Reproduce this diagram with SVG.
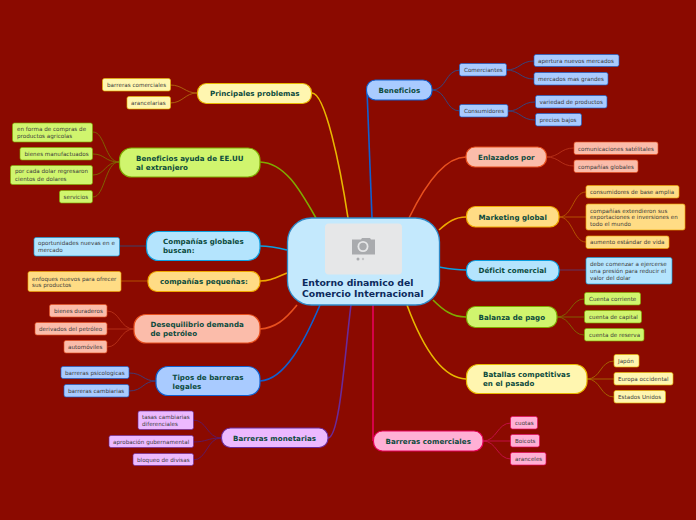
<svg xmlns="http://www.w3.org/2000/svg" width="696" height="520" viewBox="0 0 696 520">
<style>
text{font-family:"DejaVu Sans","Liberation Sans",sans-serif;}
.m{font-size:7.1px;font-weight:700;fill:#0b4a3c;letter-spacing:.04px}
.s{font-size:5.6px;fill:#3a3a3a;letter-spacing:.02px}
.c{font-size:9.3px;font-weight:700;fill:#0c2a5c}
.n{stroke-width:1.2}
rect[rx="2"]{stroke-width:1;stroke-opacity:.65}
.l{fill:none}
.l1{stroke-width:1.6}
.l2{stroke-width:.9}
.y{fill:#fff6b0;stroke:#e8b800}.g{fill:#d0f56e;stroke:#7faa00}.b{fill:#b4e4fd;stroke:#0a9fe0}.o{fill:#ffdc85;stroke:#f0a800}.r{fill:#fbbcaa;stroke:#e8501e}.u{fill:#a9cbff;stroke:#1060d0}.p{fill:#ecb9ff;stroke:#6b2a9a}.k{fill:#ffb0d5;stroke:#e8005a}
</style>
<rect width="696" height="520" fill="#8b0a00"/>
<g id="connectors" class="l">
<g class="l1">
<path d="M348 218C340 165 325 93 312 93" stroke="#e8b800"/>
<path d="M316 218C300 190 285 163 260 162" stroke="#7faa00"/>
<path d="M287 250C275 247 270 246 260 246" stroke="#0a9fe0"/>
<path d="M287 273C275 278 270 281 260 281" stroke="#f0a800"/>
<path d="M297 305C285 320 275 328 260 329" stroke="#e8501e"/>
<path d="M320 305C305 340 285 380 260 381" stroke="#1060d0"/>
<path d="M351 305C345 350 340 438 328 438" stroke="#6b2a9a"/>
<path d="M372 218L367 90" stroke="#1060d0"/>
<path d="M409 218C425 185 445 157 466 157" stroke="#e8501e"/>
<path d="M439 230C448 222 455 217 466 217" stroke="#f0a800"/>
<path d="M439 267C450 269 455 270 466 270" stroke="#0a9fe0"/>
<path d="M433 300C443 310 452 317 466 317" stroke="#7faa00"/>
<path d="M407 305C420 340 440 378 466 379" stroke="#e8b800"/>
<path d="M373 305L373 441" stroke="#e8005a"/>
</g>
<g class="l2">
<path d="M197 93C185 93 183 85 170 85M197 93C185 93 183 103 170 103" stroke="#b06a10"/>
<path d="M119 162C105 162 105 132 93 132M119 162C105 162 105 154 93 154M119 162C105 162 105 175 93 175M119 162C105 162 105 197 93 197" stroke="#7f6a00"/>
<path d="M146 246L120 246" stroke="#2f4a78"/>
<path d="M148 281L121 281" stroke="#b85a00"/>
<path d="M134 329C120 329 120 311 107 311M134 329L107 329M134 329C120 329 120 347 107 347" stroke="#b8321a"/>
<path d="M156 381C143 381 143 373 129 373M156 381C143 381 143 391 129 391" stroke="#3a3f80"/>
<path d="M221 438C207 438 207 420 193 420M221 438C207 438 207 442 193 442M221 438C207 438 207 460 193 460" stroke="#5a1a6a"/>
<path d="M432 90C447 90 445 70 460 70M432 90C447 90 445 111 460 111" stroke="#2f4a88"/>
<path d="M506 70C520 70 520 61 534 61M506 70C520 70 520 79 534 79" stroke="#2f4a88"/>
<path d="M508 111C521 111 521 102 535 102M508 111C521 111 521 120 535 120" stroke="#2f4a88"/>
<path d="M546 157C560 157 560 148 574 148M546 157C560 157 560 166 574 166" stroke="#b8321a"/>
<path d="M559 217C573 217 573 192 586 192M559 217L586 217M559 217C573 217 573 242 586 242" stroke="#b85a00"/>
<path d="M559 270L586 270" stroke="#5a3a70"/>
<path d="M557 317C571 317 571 299 584 299M557 317L584 317M557 317C571 317 571 335 584 335" stroke="#7f6a00"/>
<path d="M587 379C601 379 600 361 614 361M587 379L614 379M587 379C601 379 600 397 614 397" stroke="#a86a00"/>
<path d="M483 441C497 441 497 423 511 423M483 441L511 441M483 441C497 441 497 459 511 459" stroke="#c8104a"/>
</g>
</g>
<g id="center">
<rect x="287.500" y="218" width="152" height="87" rx="24" fill="#c4e9fd" stroke="#2f8ac8" stroke-width="1.300"/>
<rect x="325" y="223.500" width="77" height="51" rx="4" fill="#e6e7e8"/>
<path d="M352 239.500h9l1-1.500h8l1 1.500h4v15h-23z" fill="#a9abae"/>
<circle cx="363" cy="246.500" r="5.500" fill="#e6e7e8"/><circle cx="363" cy="246.500" r="3.700" fill="#a9abae"/>
<circle cx="358" cy="259" r="1.500" fill="#a9abae"/><circle cx="363" cy="259" r="1.200" fill="#c4c5c7"/>
<text class="c" x="302" y="286">Entorno dinamico del</text>
<text class="c" x="302" y="297">Comercio Internacional</text>
</g>
<g id="principales"><rect class="y n" x="197.500" y="83.500" width="114" height="20" rx="9"/><text class="m" x="210" y="96">Principales problemas</text></g>
<g id="pp1"><rect class="y n" x="102.500" y="78.500" width="68" height="12.500" rx="2"/><text class="s" x="107" y="87">barreras comerciales</text></g>
<g id="pp2"><rect class="y n" x="127" y="96.500" width="43.500" height="12.500" rx="2"/><text class="s" x="131" y="105">arancelarias</text></g>
<g id="ayuda"><rect class="g n" x="119.500" y="148" width="140.500" height="29" rx="12"/><text class="m" x="136" y="161">Beneficios ayuda de EE.UU</text><text class="m" x="136" y="170">al extranjero</text></g>
<g id="ay1"><rect class="g n" x="12.500" y="123" width="80" height="19" rx="2"/><text class="s" x="17" y="131">en forma de compras de</text><text class="s" x="17" y="138">productos agricolas</text></g>
<g id="ay2"><rect class="g n" x="20" y="147.500" width="72.500" height="12.500" rx="2"/><text class="s" x="24.500" y="156">bienes manufactuados</text></g>
<g id="ay3"><rect class="g n" x="10.500" y="165.500" width="82" height="19" rx="2"/><text class="s" x="15" y="173">por cada dolar regresaron</text><text class="s" x="15" y="181">cientos de dolares</text></g>
<g id="ay4"><rect class="g n" x="59.500" y="190.500" width="33" height="12.500" rx="2"/><text class="s" x="63.500" y="199">servicios</text></g>
<g id="globales"><rect class="b n" x="146.500" y="231.500" width="113.500" height="29" rx="12"/><text class="m" x="163" y="244">Compañías globales</text><text class="m" x="163" y="253">buscan:</text></g>
<g id="gl1"><rect class="b n" x="34" y="237.500" width="85.500" height="18.500" rx="2"/><text class="s" x="38" y="245">oportunidades nuevas en e</text><text class="s" x="38" y="252">mercado</text></g>
<g id="pequenas"><rect class="o n" x="148" y="271.500" width="112" height="20" rx="9"/><text class="m" x="160" y="284">compañías pequeñas:</text></g>
<g id="pq1"><rect class="o n" x="28" y="271.500" width="93" height="20" rx="2"/><text class="s" x="32" y="281">enfoques nuevos para ofrecer</text><text class="s" x="32" y="287">sus productos</text></g>
<g id="deseq"><rect class="r n" x="134" y="314.500" width="126" height="28.500" rx="12"/><text class="m" x="150.500" y="327">Desequilibrio demanda</text><text class="m" x="150.500" y="336">de petróleo</text></g>
<g id="de1"><rect class="r n" x="49.500" y="304.500" width="57.500" height="12.500" rx="2"/><text class="s" x="54" y="313">bienes duraderos</text></g>
<g id="de2"><rect class="r n" x="35" y="322.500" width="72" height="12.500" rx="2"/><text class="s" x="39" y="331">derivados del petróleo</text></g>
<g id="de3"><rect class="r n" x="64" y="340.500" width="43" height="12.500" rx="2"/><text class="s" x="68" y="349">automóviles</text></g>
<g id="tipos"><rect class="u n" x="156" y="366.500" width="104" height="29" rx="12"/><text class="m" x="172.500" y="380">Tipos de barreras</text><text class="m" x="172.500" y="389">legales</text></g>
<g id="ti1"><rect class="u n" x="61" y="366.500" width="68" height="12" rx="2"/><text class="s" x="65" y="375">barreras psicologicas</text></g>
<g id="ti2"><rect class="u n" x="64" y="384.500" width="65" height="12.500" rx="2"/><text class="s" x="68" y="393">barreras cambiarias</text></g>
<g id="monetarias"><rect class="p n" x="221.500" y="428" width="106.500" height="19.500" rx="9"/><text class="m" x="233" y="441">Barreras monetarias</text></g>
<g id="mo1"><rect class="p n" x="138" y="411" width="55.500" height="18.500" rx="2"/><text class="s" x="142" y="419">tasas cambiarias</text><text class="s" x="142" y="426">diferenciales</text></g>
<g id="mo2"><rect class="p n" x="109" y="435.500" width="84.500" height="12" rx="2"/><text class="s" x="113" y="444">aprobación gubernamental</text></g>
<g id="mo3"><rect class="p n" x="133" y="453.500" width="60.500" height="12" rx="2"/><text class="s" x="137" y="462">bloqueo de divisas</text></g>
<g id="beneficios"><rect class="u n" x="366.500" y="80" width="65.500" height="20" rx="9"/><text class="m" x="378.500" y="93">Beneficios</text></g>
<g id="be1"><rect class="u n" x="459.500" y="63.500" width="47" height="12.500" rx="2"/><text class="s" x="464" y="72">Comerciantes</text></g>
<g id="be2"><rect class="u n" x="459.500" y="104.500" width="48.500" height="12.500" rx="2"/><text class="s" x="464" y="113">Consumidores</text></g>
<g id="be3"><rect class="u n" x="534" y="54.500" width="85" height="12" rx="2"/><text class="s" x="538" y="63">apertura nuevos mercados</text></g>
<g id="be4"><rect class="u n" x="534" y="72.500" width="74" height="12.500" rx="2"/><text class="s" x="538" y="81">mercados mas grandes</text></g>
<g id="be5"><rect class="u n" x="535.500" y="95.500" width="71.500" height="12.500" rx="2"/><text class="s" x="539.500" y="104">variedad de productos</text></g>
<g id="be6"><rect class="u n" x="535.500" y="113.500" width="46" height="12.500" rx="2"/><text class="s" x="539.500" y="122">precios bajos</text></g>
<g id="enlazados"><rect class="r n" x="466" y="147" width="80.500" height="20" rx="9"/><text class="m" x="478" y="160">Enlazados por</text></g>
<g id="en1"><rect class="r n" x="574" y="142" width="84" height="12.500" rx="2"/><text class="s" x="578" y="151">comunicaciones satélitales</text></g>
<g id="en2"><rect class="r n" x="574" y="160" width="64" height="12.500" rx="2"/><text class="s" x="578" y="169">compañías globales</text></g>
<g id="marketing"><rect class="o n" x="466.500" y="206.500" width="92.500" height="20.500" rx="9"/><text class="m" x="478.500" y="220">Marketing global</text></g>
<g id="ma1"><rect class="o n" x="586" y="185.500" width="93" height="12.500" rx="2"/><text class="s" x="590" y="194">consumidores de base amplia</text></g>
<g id="ma2"><rect class="o n" x="586" y="204" width="99" height="26" rx="2"/><text class="s" x="590" y="213">compañías extendieron sus</text><text class="s" x="590" y="219">exportaciones e inversiones en</text><text class="s" x="590" y="226">todo el mundo</text></g>
<g id="ma3"><rect class="o n" x="586" y="236" width="83" height="12.500" rx="2"/><text class="s" x="590" y="244">aumento estándar de vida</text></g>
<g id="deficit"><rect class="b n" x="466.500" y="260.500" width="92.500" height="20.500" rx="9"/><text class="m" x="478.500" y="273">Déficit comercial</text></g>
<g id="de4"><rect class="b n" x="586" y="257.500" width="86" height="26.500" rx="2"/><text class="s" x="590" y="266">debe comenzar a ejercerse</text><text class="s" x="590" y="273">una presión para reducir el</text><text class="s" x="590" y="280">valor del dolar</text></g>
<g id="balanza"><rect class="g n" x="466.500" y="306.500" width="90.500" height="21" rx="9"/><text class="m" x="478.500" y="320">Balanza de pago</text></g>
<g id="ba1"><rect class="g n" x="584.500" y="292.500" width="56" height="12.500" rx="2"/><text class="s" x="589" y="301">Cuenta corriente</text></g>
<g id="ba2"><rect class="g n" x="584.500" y="310.500" width="57" height="12.500" rx="2"/><text class="s" x="589" y="319">cuenta de capital</text></g>
<g id="ba3"><rect class="g n" x="584.500" y="328.500" width="59.500" height="12.500" rx="2"/><text class="s" x="589" y="337">cuenta de reserva</text></g>
<g id="batallas"><rect class="y n" x="466.500" y="364.500" width="120.500" height="29" rx="12"/><text class="m" x="483" y="377">Batallas competitivas</text><text class="m" x="483" y="386">en el pasado</text></g>
<g id="bt1"><rect class="y n" x="614" y="354.500" width="25" height="12.500" rx="2"/><text class="s" x="618" y="363">Japón</text></g>
<g id="bt2"><rect class="y n" x="614" y="372.500" width="59" height="12.500" rx="2"/><text class="s" x="618" y="381">Europa occidental</text></g>
<g id="bt3"><rect class="y n" x="614" y="390.500" width="51.500" height="12.500" rx="2"/><text class="s" x="618" y="399">Estados Unidos</text></g>
<g id="comerciales"><rect class="k n" x="373.500" y="431" width="109.500" height="20" rx="9"/><text class="m" x="385.500" y="444">Barreras comerciales</text></g>
<g id="bc1"><rect class="k n" x="510.500" y="416.500" width="27" height="12.500" rx="2"/><text class="s" x="515" y="425">cuotas</text></g>
<g id="bc2"><rect class="k n" x="510.500" y="434.500" width="29" height="12.500" rx="2"/><text class="s" x="515" y="443">Boicots</text></g>
<g id="bc3"><rect class="k n" x="510.500" y="452.500" width="35.500" height="12.500" rx="2"/><text class="s" x="515" y="461">aranceles</text></g>
</svg>
